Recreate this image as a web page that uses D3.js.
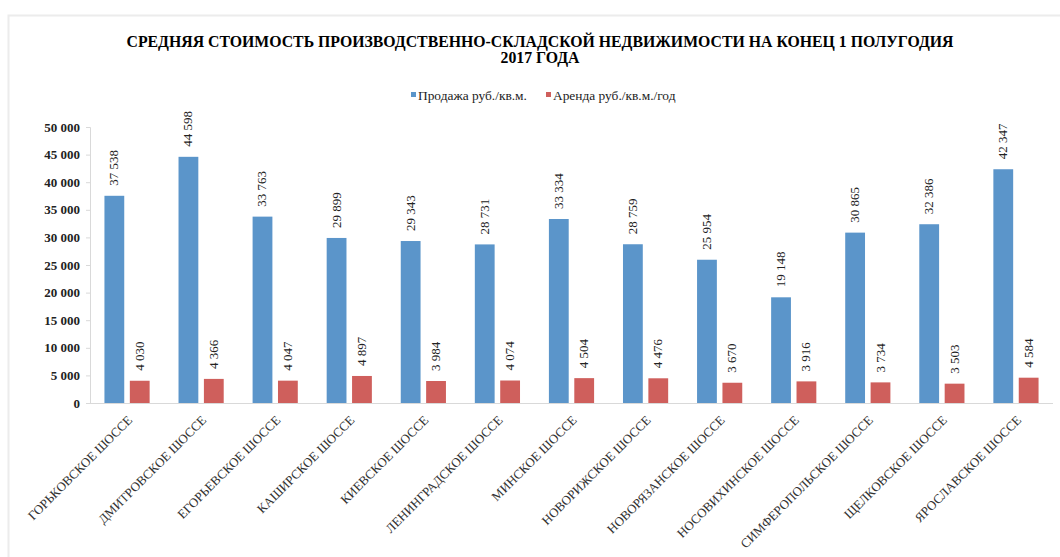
<!DOCTYPE html>
<html><head><meta charset="utf-8">
<script src="https://cdn.jsdelivr.net/npm/d3@7"></script>
<style>body{margin:0;background:#fff;} svg{display:block;}</style>
</head><body>
<svg id="chart" width="1060" height="557"></svg>
<script>
const categories = ["ГОРЬКОВСКОЕ ШОССЕ","ДМИТРОВСКОЕ ШОССЕ","ЕГОРЬЕВСКОЕ ШОССЕ","КАШИРСКОЕ ШОССЕ","КИЕВСКОЕ ШОССЕ","ЛЕНИНГРАДСКОЕ ШОССЕ","МИНСКОЕ ШОССЕ","НОВОРИЖСКОЕ ШОССЕ","НОВОРЯЗАНСКОЕ ШОССЕ","НОСОВИХИНСКОЕ ШОССЕ","СИМФЕРОПОЛЬСКОЕ ШОССЕ","ЩЕЛКОВСКОЕ ШОССЕ","ЯРОСЛАВСКОЕ ШОССЕ"];
const sale = [37538,44598,33763,29899,29343,28731,33334,28759,25954,19148,30865,32386,42347];
const rent = [4030,4366,4047,4897,3984,4074,4504,4476,3670,3916,3734,3503,4584];
const seriesNames = ["Продажа руб./кв.м.","Аренда руб./кв.м./год"];
const yTicks = [0,5000,10000,15000,20000,25000,30000,35000,40000,45000,50000];
const titleLines = ["СРЕДНЯЯ СТОИМОСТЬ ПРОИЗВОДСТВЕННО-СКЛАДСКОЙ НЕДВИЖИМОСТИ НА КОНЕЦ 1 ПОЛУГОДИЯ","2017 ГОДА"];

const colors = ["#5b95ca","#cf5f5c"];
const FONT = '"Liberation Serif","Times New Roman",serif';
const svg = d3.select("#chart");
const fmt = v => d3.format(",")(v).replace(/,/g, " ");

// frame
svg.append("path").attr("d","M8.5,557 L8.5,15.5 L1060,15.5").attr("fill","none").attr("stroke","#ececec").attr("stroke-width",2);

// title
svg.append("g").selectAll("text").data(titleLines).join("text")
  .attr("x",540).attr("y",(d,i)=>47+i*16).attr("text-anchor","middle")
  .style("font-family",FONT).style("font-weight","bold").style("font-size","15.8px").attr("fill","#000").text(d=>d);

const margin = {left:90,right:1053,top:127,bottom:403};
const x0 = d3.scaleBand().domain(categories).range([margin.left,margin.right]).paddingInner(0.39).paddingOuter(0.195);
const x1 = d3.scaleBand().domain([0,1]).range([0,x0.bandwidth()]).paddingInner(0.22);
const y = d3.scaleLinear().domain([0,50000]).range([margin.bottom,margin.top]);

// legend
const legX = [411,546];
const leg = svg.append("g");
seriesNames.forEach((n,i)=>{
  leg.append("rect").attr("x",legX[i]).attr("y",92).attr("width",5).attr("height",5).attr("fill",colors[i]);
  leg.append("text").attr("x",legX[i]+7).attr("y",99.5).style("font-family",FONT).style("font-size","13.4px").attr("fill","#222").text(n);
});

// y axis
const yAxis = d3.axisLeft(y).tickValues(yTicks).tickFormat(fmt).tickSize(4).tickPadding(6);
const ya = svg.append("g").attr("transform",`translate(${margin.left},0)`).call(yAxis);
ya.select(".domain").attr("stroke","#d9d9d9");
ya.selectAll(".tick line").attr("stroke","#d9d9d9");
ya.selectAll(".tick text").style("font-family",FONT).style("font-size","13px").style("font-weight","bold").attr("fill","#222");

// baseline
svg.append("line").attr("x1",margin.left).attr("x2",margin.right).attr("y1",y(0)+0.5).attr("y2",y(0)+0.5).attr("stroke","#d9d9d9");

const data = categories.map((c,i)=>({c, vals:[sale[i],rent[i]]}));
const groups = svg.append("g").selectAll("g").data(data).join("g").attr("transform",d=>`translate(${x0(d.c)},0)`);
groups.selectAll("rect").data(d=>d.vals.map((v,k)=>({v,k}))).join("rect")
  .attr("x",d=>x1(d.k)).attr("width",x1.bandwidth())
  .attr("y",d=>y(d.v)).attr("height",d=>y(0)-y(d.v)).attr("fill",d=>colors[d.k]);
groups.selectAll("text.val").data(d=>d.vals.map((v,k)=>({v,k}))).join("text").attr("class","val")
  .attr("transform",d=>`translate(${x1(d.k)+x1.bandwidth()/2+4},${y(d.v)-10}) rotate(-90)`)
  .style("font-family",FONT).style("font-size","13px").attr("fill","#222").text(d=>fmt(d.v));

// x labels
svg.append("g").selectAll("text").data(categories).join("text")
  .attr("transform",d=>`translate(${x0(d)+x0.bandwidth()/2+6},${y(0)+18}) rotate(-45)`)
  .attr("text-anchor","end").style("font-family",FONT).style("font-size","12.8px").attr("fill","#333").text(d=>d);
</script>
</body></html>
